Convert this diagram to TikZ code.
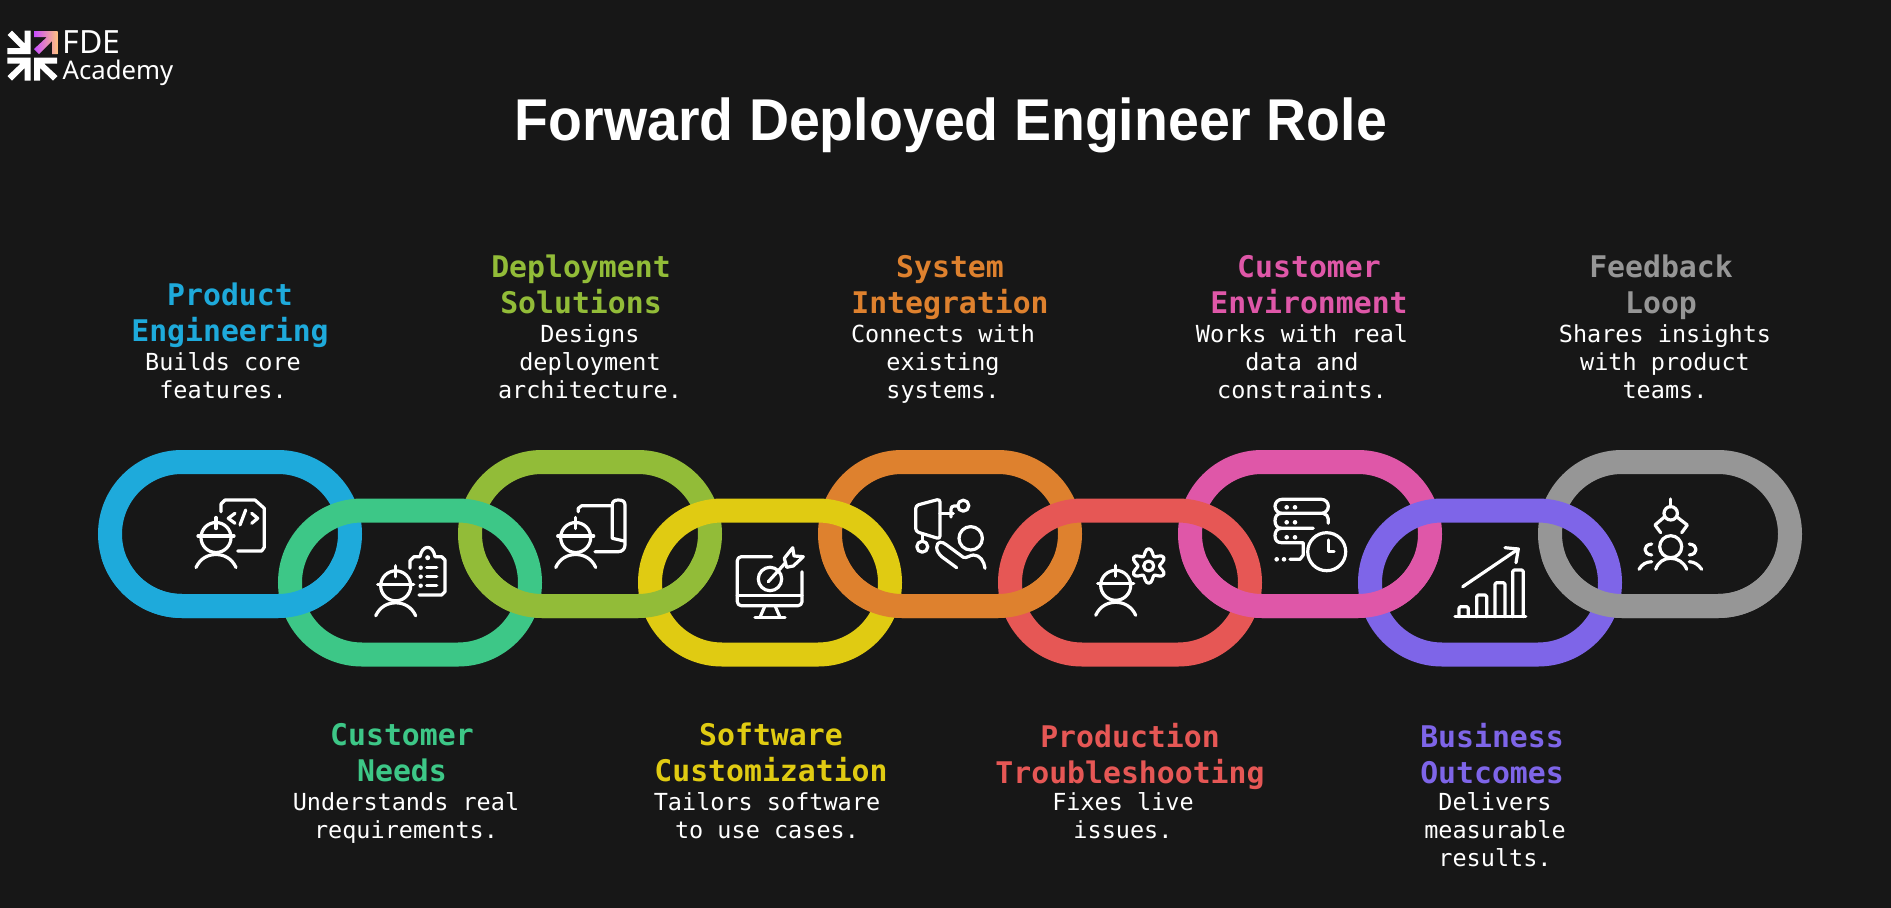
\documentclass[tikz,border=0pt]{standalone}
\usepackage{fontspec}
\setmainfont{Liberation Sans}
\newfontfamily\monofam{DejaVu Sans Mono}
\newfontfamily\logofam{Noto Sans}
\definecolor{bgc}{HTML}{171717}
\definecolor{cblue}{HTML}{1EAADB}
\definecolor{cgreen}{HTML}{3DC787}
\definecolor{colive}{HTML}{92BC38}
\definecolor{cyellow}{HTML}{E0CB12}
\definecolor{corange}{HTML}{DE812E}
\definecolor{cred}{HTML}{E65755}
\definecolor{cpink}{HTML}{DF57A8}
\definecolor{cpurple}{HTML}{7E65E8}
\definecolor{cgray}{HTML}{969696}
\definecolor{logopurple}{HTML}{C84CFF}
\definecolor{logopink}{HTML}{F26BA8}
\definecolor{logopeach}{HTML}{FFC27F}
\tikzset{
  linkshape/.style={rectangle,inner sep=0pt,minimum width=240pt,minimum height=144pt,rounded corners=72pt,line width=24pt,draw=#1},
  headlab/.style={anchor=north,inner sep=0pt,align=center,text=#1,font=\monofam\bfseries\fontsize{29.8}{36}\selectfont,execute at begin node=\strut},
  desclab/.style={anchor=north,inner sep=0pt,align=center,text=white,font=\monofam\fontsize{23.5}{28}\selectfont,execute at begin node=\strut},
  icon/.style={draw=white,line width=3.2pt,line cap=round,line join=round},
  dot/.style={fill=white,draw=none}
}
\newcommand{\workerfig}[2]{%
  \begin{scope}[shift={(#1,#2)}]
    \draw[icon] (-18,-1.5) -- (18,-1.5);
    \draw[icon] (0,0) circle[radius=15];
    \draw[icon] (0,-20) -- (0,-9);
    \draw[icon] (-20,30) .. controls (-16,21) and (-8,17) .. (0,17) .. controls (8,17) and (16,21) .. (20,30);
  \end{scope}}
\begin{document}
\begin{tikzpicture}[x=1pt,y=-1pt]
\useasboundingbox (0,0) rectangle (1891,908);
\fill[bgc] (0,0) rectangle (1891,908);
% upper links
\node[linkshape=cblue]   (link1) at (230,534) {};
\node[linkshape=colive]  (link3) at (590,534) {};
\node[linkshape=corange] (link5) at (950,534) {};
\node[linkshape=cpink]   (link7) at (1310,534) {};
\node[linkshape=cgray]   (link9) at (1670,534) {};
% lower links
\node[linkshape=cgreen]  (link2) at (410,582.5) {};
\node[linkshape=cyellow] (link4) at (770,582.5) {};
\node[linkshape=cred]    (link6) at (1130,582.5) {};
\node[linkshape=cpurple] (link8) at (1490,582.5) {};
% upper links pass over the lower ones at the bottom crossings
\begin{scope}
  \clip (0,558) rectangle (1891,908);
  \node[linkshape=cblue]   at (230,534) {};
  \node[linkshape=colive]  at (590,534) {};
  \node[linkshape=corange] at (950,534) {};
  \node[linkshape=cpink]   at (1310,534) {};
  \node[linkshape=cgray]   at (1670,534) {};
\end{scope}
% title
\node[anchor=base,inner sep=0pt,text=white,xscale=0.94,font=\bfseries\fontsize{59}{64}\selectfont] (title) at (951,140) {Forward Deployed Engineer Role};
% logo
\fill[white] (30.7,54) -- (7.3,54) -- (7.3,48) -- (20.7,48) -- (7.5,35) -- (12,30.7) -- (24.7,43.5) -- (24.7,30.7) -- (30.7,30.7) -- cycle;
\fill[white] (30.7,57.5) -- (7.3,57.5) -- (7.3,63.5) -- (20.7,63.5) -- (7.5,76) -- (12,80.5) -- (24.7,68) -- (24.7,80.5) -- (30.7,80.5) -- cycle;
\fill[white] (34,57.5) -- (57,57.5) -- (57,63.5) -- (44,63.5) -- (57.5,76) -- (53,80.5) -- (40,68) -- (40,80.5) -- (34,80.5) -- cycle;
\begin{scope}
  \clip (34,31) -- (57.7,31) -- (57.7,54) -- (52,54) -- (52,41) -- (39,54) -- (34,49) -- (47,37) -- (34,37) -- cycle;
  \shade[left color=logopurple,middle color=logopink,right color=logopeach] (34,31) rectangle (57.7,54);
\end{scope}
\node[anchor=base west,inner sep=0pt,text=white,font=\logofam\fontsize{32}{34}\selectfont] (logoa) at (62.5,53.3) {FDE};
\node[anchor=base west,inner sep=0pt,text=white,font=\logofam\fontsize{25.7}{28}\selectfont] (logob) at (62.5,79.3) {Academy};
% labels
\node[headlab=cblue]   (h1) at (230,283) {Product\\Engineering};
\node[desclab]         (d1) at (223,352) {Builds core\\features.};
\node[headlab=cgreen]  (h2) at (402,723) {Customer\\Needs};
\node[desclab]         (d2) at (406,792) {Understands real\\requirements.};
\node[headlab=colive]  (h3) at (581,255) {Deployment\\Solutions};
\node[desclab]         (d3) at (590,324) {Designs\\deployment\\architecture.};
\node[headlab=cyellow] (h4) at (771,723) {Software\\Customization};
\node[desclab]         (d4) at (767,792) {Tailors software\\to use cases.};
\node[headlab=corange] (h5) at (950,255) {System\\Integration};
\node[desclab]         (d5) at (943,324) {Connects with\\existing\\systems.};
\node[headlab=cred]    (h6) at (1130,723) {Production\\Troubleshooting};
\node[desclab]         (d6) at (1123,792) {Fixes live\\issues.};
\node[headlab=cpink]   (h7) at (1309,255) {Customer\\Environment};
\node[desclab]         (d7) at (1302,324) {Works with real\\data and\\constraints.};
\node[headlab=cpurple] (h8) at (1492,723) {Business\\Outcomes};
\node[desclab]         (d8) at (1495,792) {Delivers\\measurable\\results.};
\node[headlab=cgray]   (h9) at (1661,255) {Feedback\\Loop};
\node[desclab]         (d9) at (1665,324) {Shares insights\\with product\\teams.};
% icon 1
\workerfig{216}{537.5}
\draw[icon] (221,511.7) -- (221,504) -- (225,500) -- (255,500) -- (264.3,508.3) -- (264.3,547.3) -- (261.7,551) -- (237.7,551);
\draw[icon] (235,513.3) -- (228.3,518.3) -- (235,523.3);
\draw[icon] (245.7,510) -- (240,525);
\draw[icon] (251.7,513.3) -- (257.7,518.3) -- (251.7,523.3);
% icon 2
\workerfig{395.7}{585.8}
\draw[icon] (419,595) -- (441.7,595) -- (445,591.7) -- (445,560) -- (441.7,556.7) -- (435,556.7) .. controls (434,551) and (431,547.3) .. (427.7,547.3) .. controls (424,547.3) and (421,551) .. (420,556.7) -- (414,556.7) -- (410,560.7) -- (410,568.3);
\fill[dot] (427.7,557.7) circle[radius=2.5];
\foreach \yy in {567.7,576.7,585.7}{
  \fill[dot] (420.7,\yy) circle[radius=2.2];
  \draw[icon] (426.7,\yy) -- (436.7,\yy);
}
% icon 3
\workerfig{575.7}{537.5}
\draw[icon] (578.3,511.7) -- (578.3,508.3) -- (581.7,505.7) -- (611.7,505.7);
\draw[icon] (612.3,538.3) -- (612.3,505) .. controls (612.3,501) and (615,500) .. (618.3,500) .. controls (622,500) and (625,501) .. (625,505) -- (625,545) .. controls (625,549) and (622,551.7) .. (618.3,551.7) -- (595,551.7);
\draw[icon] (612.3,538.3) -- (624,541);
% icon 4
\draw[icon,rounded corners=4pt] (771.7,556.7) -- (737.3,556.7) -- (737.3,605.7) -- (802,605.7) -- (802,571.7);
\draw[icon] (737.3,595.7) -- (802,595.7);
\draw[icon] (765,605.7) -- (760,617.3);
\draw[icon] (775,605.7) -- (780,617.3);
\draw[icon] (755,617.3) -- (785,617.3);
\draw[icon] (770,579) circle[radius=11.7];
\draw[icon] (768.3,581.7) -- (785,563.3);
\draw[icon] (784.3,558.3) -- (792.7,547.7) -- (794,556) -- (803.3,556.7) -- (793.3,566) -- (786.7,567.3) -- cycle;
% icon 5
\draw[icon,rounded corners=3pt] (915.7,505.5) -- (940,499) -- (940,539) -- (915.7,531.5) -- cycle;
\draw[icon] (940,513.3) -- (953.3,513.3);
\draw[icon,rounded corners=3pt] (951,517) -- (951,506) -- (958.5,506);
\draw[icon] (963.3,505.7) circle[radius=5.5];
\draw[icon] (922.3,546.7) circle[radius=5.5];
\draw[icon] (922.3,541.2) -- (922.3,535);
\draw[icon] (970.7,538.3) circle[radius=11.7];
\draw[icon] (985,568.3) .. controls (984,561) and (980,555) .. (973.3,555) .. controls (970,555) and (967,558.5) .. (963.3,557.3) -- (946.7,545) .. controls (942,541) and (937,541) .. (936.7,547.3) .. controls (936.5,551) and (939,554) .. (941.7,556.7) -- (956.7,567.7);
% icon 6
\workerfig{1115.7}{585.3}
\draw[icon] plot[smooth cycle,samples=48,domain=0:352.5] ({1148.7+(14-3.3*cos(6*\x))*cos(\x)},{566+(14-3.3*cos(6*\x))*sin(\x)});
\draw[icon] (1148.7,566) circle[radius=5];
% icon 7
\draw[icon,rounded corners=7pt] (1275,499.3) rectangle (1328.3,513.3);
\draw[icon] (1281.7,513.3) .. controls (1277,513.3) and (1275,516.5) .. (1275,520.7) .. controls (1275,525) and (1277,528.3) .. (1281.7,528.3) -- (1313.3,528.3);
\draw[icon] (1323,513.3) .. controls (1326,514) and (1328.3,516) .. (1328.3,519) -- (1328.3,523.3);
\draw[icon] (1281.7,528.3) .. controls (1277,528.3) and (1275,531.5) .. (1275,535.7) .. controls (1275,540) and (1277,542.7) .. (1281.7,542.7) -- (1303.3,542.7) -- (1303.3,555) -- (1300,559.3) -- (1290,559.3);
\foreach \yy in {507.3,522.3,537.3}{
  \fill[dot] (1286.7,\yy) circle[radius=2.3];
  \fill[dot] (1295,\yy) circle[radius=2.3];
}
\fill[dot] (1276.7,559.3) circle[radius=2.3];
\fill[dot] (1284,559.3) circle[radius=2.3];
\draw[icon] (1326.7,551.7) circle[radius=19];
\draw[icon] (1328.3,540) -- (1328.3,551.7) -- (1334,551.7);
% icon 8
\draw[icon] (1455,616.7) -- (1525.7,616.7);
\draw[icon,rounded corners=1.5pt] (1459,616.7) -- (1459,606.7) -- (1468.3,606.7) -- (1468.3,616.7);
\draw[icon,rounded corners=1.5pt] (1476.7,616.7) -- (1476.7,595) -- (1486.7,595) -- (1486.7,616.7);
\draw[icon,rounded corners=1.5pt] (1495,616.7) -- (1495,582.7) -- (1505,582.7) -- (1505,616.7);
\draw[icon,rounded corners=1.5pt] (1512.7,616.7) -- (1512.7,570) -- (1523.3,570) -- (1523.3,616.7);
\draw[icon] (1462.7,586.7) -- (1518.3,549);
\draw[icon] (1505,547.7) -- (1518.3,549) -- (1516,562.7);
% icon 9
\draw[icon] (1670.7,499) -- (1670.7,506.7);
\draw[icon] (1670.7,513.3) circle[radius=6.7];
\draw[icon] (1664,517.3) -- (1655,525) -- (1660.7,532.7);
\draw[icon] (1677.3,517.3) -- (1687.3,525) -- (1681.7,532.7);
\draw[icon] (1670.7,546.7) circle[radius=11];
\draw[icon] (1655.7,569.3) .. controls (1658,562) and (1664,558.3) .. (1670.7,558.3) .. controls (1677,558.3) and (1684,562) .. (1686.7,569.3);
\draw[icon] (1651.7,544) .. controls (1647,544.5) and (1645,547) .. (1645,549.5) .. controls (1645,552) and (1647,554.5) .. (1651.7,555);
\draw[icon] (1689.3,544) .. controls (1694,544.5) and (1696,547) .. (1696,549.5) .. controls (1696,552) and (1694,554.5) .. (1689.3,555);
\draw[icon] (1639,569.3) .. controls (1642,564) and (1646,562) .. (1651.7,561.7);
\draw[icon] (1701.7,569.3) .. controls (1698,564) and (1694,562) .. (1689.3,561.7);
\end{tikzpicture}
\end{document}
